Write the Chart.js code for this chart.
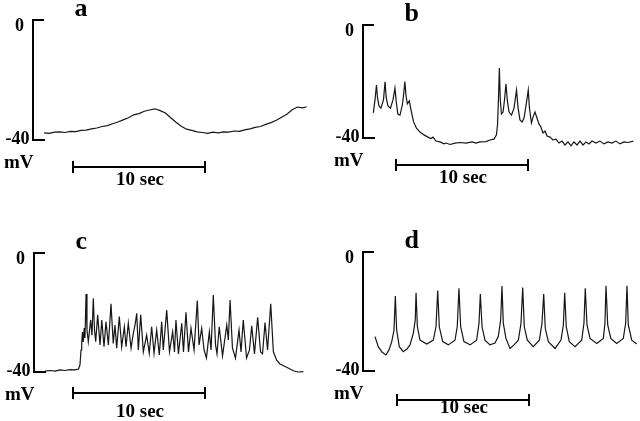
<!DOCTYPE html>
<html>
<head>
<meta charset="utf-8">
<script src="https://cdn.jsdelivr.net/npm/chart.js@4/dist/chart.umd.min.js"></script>
<style>
  html, body { margin: 0; padding: 0; background: #ffffff; }
  body { width: 640px; height: 421px; position: relative; overflow: hidden; }
  canvas { position: absolute; }
</style>
</head>
<body>
<canvas id="pa" width="320" height="210" style="left:0px;top:0px"></canvas>
<canvas id="pb" width="320" height="210" style="left:320px;top:0px"></canvas>
<canvas id="pc" width="320" height="211" style="left:0px;top:210px"></canvas>
<canvas id="pd" width="320" height="211" style="left:320px;top:210px"></canvas>
<script>
// ---------------- DATA (time in s, membrane potential in mV) ----------------
const panelLetters = ['a', 'b', 'c', 'd'];
const yTickValues = [0, -40];
const yTickLabels = ['0', '-40'];
const yUnit = 'mV';
const scaleBarSec = 10;
const scaleBarLabel = '10 sec';

const timeA = [0,0.4,0.8,1.2,1.6,2.0,2.4,2.8,3.2,3.6,4.0,4.4,4.8,5.2,5.6,6.0,6.4,6.8,7.2,7.6,8.0,8.4,8.8,9.2,9.6,10.0,10.4,10.8,11.2,11.6,12.0,12.4,12.8,13.2,13.6,14.0,14.4,14.8,15.2,15.6,16.0,16.4,16.8,17.2,17.6,18.0,18.4,18.8,19.2,19.6,19.9];
const voltA = [-37.6,-37.8,-37.4,-37.3,-37.5,-37.1,-37.2,-36.8,-36.7,-36.3,-36.0,-35.5,-35.2,-34.6,-34.0,-33.3,-32.6,-31.6,-31.2,-30.4,-30.0,-29.6,-30.2,-31.0,-32.6,-34.1,-35.4,-36.4,-36.8,-37.3,-37.5,-37.8,-37.4,-37.6,-37.3,-37.4,-37.0,-37.1,-36.6,-36.3,-35.8,-35.5,-34.8,-34.2,-33.4,-32.4,-31.4,-29.9,-29.0,-29.3,-28.9];

const timeB = [0,0.13,0.24,0.32,0.43,0.58,0.77,0.89,0.98,1.11,1.30,1.49,1.64,1.74,1.86,2.02,2.20,2.32,2.39,2.48,2.58,2.73,2.86,3.05,3.27,3.54,3.84,4.14,4.37,4.52,4.75,5.05,5.36,5.51,5.81,6.19,6.57,7.02,7.48,7.78,8.08,8.54,8.84,9.14,9.33,9.41,9.48,9.55,9.62,9.71,9.83,9.94,10.05,10.15,10.28,10.47,10.66,10.85,10.97,11.11,11.27,11.42,11.61,11.74,11.83,11.98,12.10,12.25,12.40,12.55,12.70,12.85,13.01,13.16,13.39,13.61,13.84,14.07,14.30,14.52,14.75,14.98,15.20,15.43,15.66,15.89,16.11,16.34,16.57,16.87,17.17,17.48,17.78,18.08,18.38,18.69,18.99,19.30,19.70];
const voltB = [-31.2,-26.6,-21.3,-25.9,-28.7,-29.5,-26.6,-20.2,-25.9,-28.7,-29.5,-26.6,-22.4,-27.3,-31.6,-32.0,-28.4,-23.8,-20.1,-25.2,-28.0,-26.9,-30.2,-34.4,-36.6,-38.0,-39.0,-39.8,-40.3,-39.8,-41.2,-41.5,-42.2,-41.9,-42.4,-41.9,-41.7,-41.9,-41.5,-41.9,-41.5,-41.4,-40.8,-40.5,-39.0,-35.5,-26.6,-15.3,-26.6,-31.6,-30.9,-26.6,-20.9,-26.6,-30.9,-32.0,-29.5,-23.1,-29.5,-33.7,-34.4,-33.0,-27.3,-23.1,-29.5,-34.8,-32.7,-30.9,-33.0,-35.1,-36.2,-38.3,-37.6,-39.4,-39.8,-40.8,-40.5,-41.9,-41.2,-42.6,-41.5,-42.9,-41.5,-42.6,-41.2,-42.6,-41.5,-42.2,-41.2,-41.9,-41.2,-42.2,-41.5,-41.9,-41.2,-42.2,-41.5,-41.7,-41.2];

const timeC = [0.00,0.38,0.76,1.14,1.52,1.89,2.27,2.54,2.65,2.73,2.78,2.84,2.90,2.97,3.03,3.11,3.18,3.28,3.46,3.56,3.66,3.75,3.84,3.99,4.17,4.30,4.47,4.62,4.80,5.00,5.17,5.30,5.43,5.63,5.81,6.01,6.14,6.31,6.52,6.69,6.82,6.95,7.07,7.25,7.45,7.70,7.90,8.08,8.26,8.46,8.66,8.84,8.96,9.22,9.43,9.67,9.81,9.92,10.11,10.36,10.49,10.68,10.87,11.06,11.29,11.54,11.67,11.87,12.05,12.23,12.45,12.58,12.75,12.92,13.03,13.20,13.45,13.77,13.89,14.02,14.20,14.43,14.70,14.85,15.02,15.27,15.49,15.66,15.87,16.11,16.33,16.48,16.67,16.86,17.10,17.30,17.55,17.80,18.31,18.81,19.17,19.57];
const voltC = [-39.8,-39.6,-39.8,-39.4,-39.6,-39.3,-39.4,-39.1,-37.7,-32.7,-30.4,-26.7,-30.0,-25.3,-28.7,-13.9,-26.0,-29.9,-22.6,-27.7,-15.3,-26.0,-29.9,-20.9,-31.0,-22.6,-31.6,-23.2,-31.0,-17.2,-30.5,-24.3,-32.1,-21.5,-31.6,-24.9,-31.6,-23.7,-32.1,-27.1,-24.3,-20.4,-32.7,-20.9,-33.3,-27.7,-33.8,-24.9,-33.8,-26.0,-34.4,-23.2,-32.7,-19.3,-33.3,-26.6,-33.4,-22.6,-34.0,-23.7,-33.4,-20.0,-33.4,-25.4,-32.7,-16.1,-31.0,-25.4,-32.7,-35.4,-26.6,-32.7,-14.2,-31.0,-34.0,-24.9,-34.7,-24.3,-29.3,-15.9,-32.0,-35.4,-26.0,-33.4,-22.6,-35.4,-32.7,-24.6,-34.0,-21.7,-33.4,-34.0,-23.5,-32.7,-17.2,-33.3,-36.1,-37.4,-38.5,-39.7,-40.1,-40.0];

const timeD = [0.00,0.25,0.53,0.83,1.06,1.27,1.44,1.54,1.64,1.84,2.14,2.42,2.65,2.90,3.05,3.11,3.21,3.41,3.92,4.42,4.62,4.75,4.87,5.13,5.55,6.06,6.23,6.36,6.49,6.74,7.20,7.70,7.88,7.98,8.11,8.33,8.71,9.09,9.34,9.52,9.62,9.72,9.92,10.23,10.53,10.86,11.06,11.19,11.31,11.54,11.99,12.45,12.65,12.78,12.90,13.13,13.64,14.09,14.27,14.37,14.49,14.72,15.15,15.66,15.83,15.93,16.06,16.29,16.80,17.30,17.42,17.50,17.63,17.86,18.31,18.81,18.99,19.09,19.19,19.45,19.83];
const voltD = [-28.4,-31.8,-33.6,-34.6,-32.9,-30.1,-26.2,-14.7,-26.2,-31.8,-33.5,-32.6,-31.2,-27.3,-22.8,-13.6,-25.1,-29.6,-30.9,-29.6,-25.1,-12.9,-25.1,-30.1,-31.2,-29.6,-25.1,-12.1,-25.1,-30.1,-31.2,-29.6,-23.9,-14.1,-25.1,-29.6,-31.2,-30.6,-28.4,-22.8,-11.4,-23.9,-29.0,-32.4,-31.2,-29.6,-23.9,-11.9,-25.1,-29.6,-31.8,-29.6,-23.9,-14.1,-25.6,-30.1,-32.4,-29.6,-24.5,-13.6,-25.1,-30.1,-31.8,-29.6,-23.9,-12.1,-24.5,-29.0,-30.7,-29.0,-23.9,-11.3,-24.5,-29.0,-30.7,-29.0,-23.9,-11.3,-24.5,-29.6,-30.9];

// ---------------- LAYOUT (pixel calibration of each panel) ----------------
const PX_PER_SEC = 13.2;
const layouts = [
  { canvas: 'pa', w: 320, h: 210, t0px: 44,   zeroPx: 20,   pxPerMv: 3.0,    axisT: -0.80, barT: 2.20, barMv: -49.0, barLabelDy: 18.0, times: timeA, volts: voltA },
  { canvas: 'pb', w: 320, h: 210, t0px: 53.3, zeroPx: 25,   pxPerMv: 2.8175, axisT: -0.80, barT: 1.74, barMv: -49.7, barLabelDy: 18.3, times: timeB, volts: voltB },
  { canvas: 'pc', w: 320, h: 211, t0px: 45,   zeroPx: 42.7, pxPerMv: 2.975,  axisT: -0.83, barT: 2.12, barMv: -47.3, barLabelDy: 24.4, times: timeC, volts: voltC },
  { canvas: 'pd', w: 320, h: 211, t0px: 55,   zeroPx: 42.3, pxPerMv: 2.9675, axisT: -0.89, barT: 1.67, barMv: -49.8, barLabelDy: 13.3, times: timeD, volts: voltD }
];

const SERIF = '"Liberation Serif", "Times New Roman", serif';

const decorPlugin = {
  id: 'decor',
  afterDraw(chart, args, opts) {
    const ctx = chart.ctx;
    const xs = chart.scales.x, ys = chart.scales.y;
    const ax = Math.round(xs.getPixelForValue(opts.axisT)) + 0.0;
    const yTop = Math.round(ys.getPixelForValue(yTickValues[0]));
    const yBot = Math.round(ys.getPixelForValue(yTickValues[1]));
    ctx.save();
    ctx.strokeStyle = '#000';
    ctx.fillStyle = '#000';
    ctx.lineWidth = 2;
    ctx.lineCap = 'butt';
    ctx.lineJoin = 'miter';
    // voltage calibration bracket
    ctx.beginPath();
    ctx.moveTo(ax + 11, yTop);
    ctx.lineTo(ax, yTop);
    ctx.lineTo(ax, yBot);
    ctx.lineTo(ax + 12, yBot);
    ctx.stroke();
    // tick labels
    ctx.textBaseline = 'alphabetic';
    ctx.textAlign = 'right';
    ctx.font = 'bold 18px ' + SERIF;
    ctx.fillText(yTickLabels[0], ax - 9, yTop + 10.5);
    ctx.fillText(yTickLabels[1], ax - 3.5, yBot + 4);
    ctx.font = 'bold 19px ' + SERIF;
    ctx.fillText(yUnit, ax + 0.5, yBot + 28);
    // panel letter
    ctx.textAlign = 'left';
    ctx.font = 'bold 26px ' + SERIF;
    ctx.fillText(opts.letter, ax + 41.5, yTop - 3.7);
    // time scale bar
    const bx0 = Math.round(xs.getPixelForValue(opts.barT));
    const bx1 = Math.round(xs.getPixelForValue(opts.barT + scaleBarSec));
    const by = Math.round(ys.getPixelForValue(opts.barMv));
    ctx.beginPath();
    ctx.moveTo(bx0, by); ctx.lineTo(bx1, by);
    ctx.moveTo(bx0, by - 6); ctx.lineTo(bx0, by + 6);
    ctx.moveTo(bx1, by - 6); ctx.lineTo(bx1, by + 6);
    ctx.stroke();
    ctx.textAlign = 'center';
    ctx.font = 'bold 19px ' + SERIF;
    ctx.fillText(scaleBarLabel, (bx0 + bx1) / 2 + 1, by + opts.barLabelDy);
    ctx.restore();
  }
};

layouts.forEach((L, i) => {
  const n = Math.min(L.times.length, L.volts.length);
  const pts = [];
  for (let k = 0; k < n; k++) pts.push({ x: L.times[k], y: L.volts[k] });
  new Chart(document.getElementById(L.canvas), {
    type: 'line',
    data: {
      datasets: [{
        data: pts,
        borderColor: '#161616',
        borderWidth: 1.2,
        pointRadius: 0,
        tension: 0,
        fill: false
      }]
    },
    options: {
      responsive: false,
      animation: false,
      devicePixelRatio: 1,
      layout: { padding: 0 },
      events: [],
      plugins: {
        legend: { display: false },
        tooltip: { enabled: false },
        decor: { letter: panelLetters[i], axisT: L.axisT, barT: L.barT, barMv: L.barMv, barLabelDy: L.barLabelDy }
      },
      scales: {
        x: { type: 'linear', display: false, min: -L.t0px / PX_PER_SEC, max: (L.w - L.t0px) / PX_PER_SEC },
        y: { type: 'linear', display: false, min: -(L.h - L.zeroPx) / L.pxPerMv, max: L.zeroPx / L.pxPerMv }
      }
    },
    plugins: [decorPlugin]
  });
});
</script>
</body>
</html>
